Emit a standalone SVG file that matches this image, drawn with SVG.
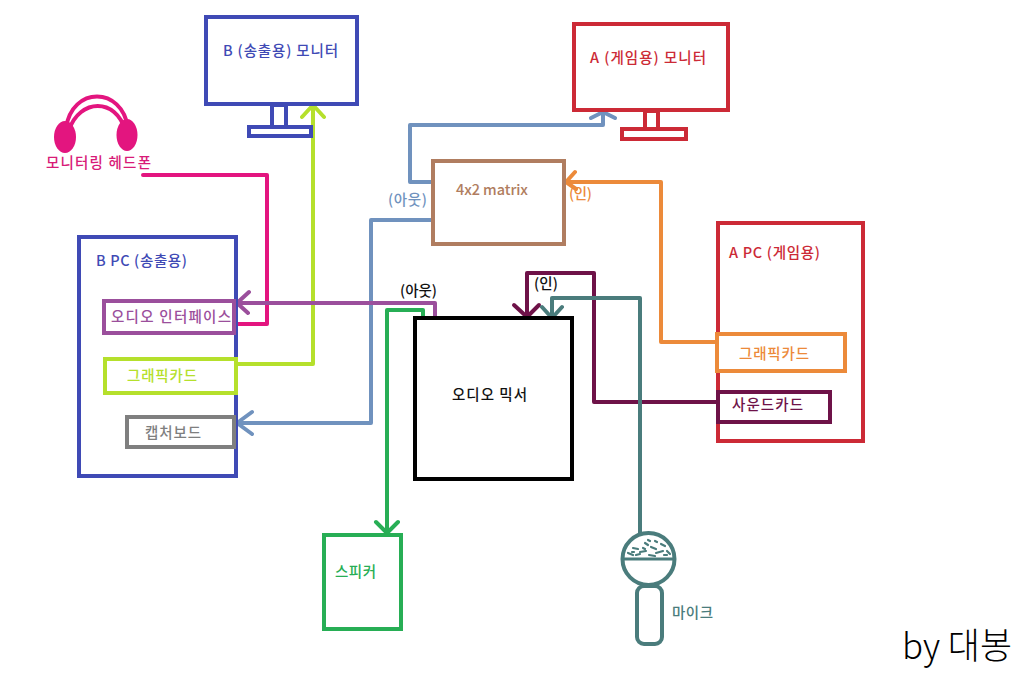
<svg xmlns="http://www.w3.org/2000/svg" width="1024" height="691" viewBox="0 0 1024 691">
<style>
text{font-family:"Noto Sans CJK KR","Noto Sans",sans-serif;font-size:14.500px;font-weight:500}
.box{fill:none;stroke-width:4}
.ln{fill:none;stroke-width:4;stroke-linejoin:round;stroke-linecap:round}
.navy{stroke:#3f4ab5}.red{stroke:#cc2a36}.blue{stroke:#7092be}.pink{stroke:#e3157f}.lime{stroke:#b5e02c}
.purple{stroke:#9b4f9c}.orange{stroke:#ec8a3a}.wine{stroke:#6e1248}.teal{stroke:#4a7c7c}.green{stroke:#27ae55}
</style>
<rect width="1024" height="691" fill="#fff"/>
<g id="connectors">
<path class="ln pink" d="M143 175H267V324H236"/>
<path class="ln lime" d="M237 364H313V105M302 117L313 105L324 117"/>
<path class="ln blue" d="M433 220H371V423H237M252 412L237 423L252 434"/>
<path class="ln blue" d="M433 182H410V125H603V113M591 118L603 112L615 118"/>
<path class="ln orange" d="M717 342H661V182H566M575 172L566 182L576 189"/>
<path class="ln wine" d="M718 402H594V273H527V316M514 305L527 317L539 305"/>
<path class="ln teal" d="M640 534V298H552V318M542 307L552 318L562 307"/>
<path class="ln purple" d="M435 317V303H237M249 292L237 303L248 313"/>
<path class="ln green" d="M423 317V310H387V533M376 522L387 533L398 522"/>
</g>
<g id="b-monitor">
<rect class="box navy" x="206" y="17" width="151" height="87"/>
<rect class="box navy" x="272" y="105" width="14" height="22"/>
<rect class="box navy" x="249" y="127" width="62" height="9"/>
<text x="223" y="56" textLength="115" fill="#3f4ab5">B (송출용) 모니터</text>
</g>
<g id="a-monitor">
<rect class="box red" x="574" y="24" width="154" height="86"/>
<rect class="box red" x="645" y="111" width="13" height="18"/>
<rect class="box red" x="622" y="129" width="64" height="10"/>
<text x="590" y="63" textLength="116" fill="#cc2a36">A (게임용) 모니터</text>
</g>
<g id="headphones">
<path d="M66 128C72 86 122 86 128 128" fill="none" stroke="#e3157f" stroke-width="4"/>
<path d="M69 130C80 98 116 98 125 130" fill="none" stroke="#e3157f" stroke-width="4"/>
<ellipse cx="65" cy="137" rx="11" ry="16" fill="#e3157f"/>
<ellipse cx="127" cy="135" rx="10.500" ry="16" fill="#e3157f"/>
<text x="46" y="168" textLength="105" fill="#d81b78">모니터링 헤드폰</text>
</g>
<g id="b-pc">
<rect class="box navy" x="79" y="237" width="157" height="239"/>
<text x="96" y="266" textLength="91" fill="#3f4ab5">B PC (송출용)</text>
</g>
<g id="audio-interface">
<rect class="box purple" x="104" y="301" width="130" height="32"/>
<text x="111" y="322" textLength="120" fill="#9b4f9c">오디오 인터페이스</text>
</g>
<g id="b-graphics">
<rect class="box lime" x="105" y="359" width="131" height="34"/>
<text x="127" y="381" textLength="70" fill="#b5e02c">그래픽카드</text>
</g>
<g id="capture-board">
<rect class="box" stroke="#7f7f7f" x="127" y="417" width="107" height="30"/>
<text x="145" y="438" textLength="56" fill="#7f7f7f">캡처보드</text>
</g>
<g id="matrix">
<rect class="box" stroke="#b07d60" x="433" y="161" width="131" height="83"/>
<text x="456" y="195" textLength="72" fill="#b07d60">4x2 matrix</text>
<text x="388" y="205" textLength="39" fill="#7092be">(아웃)</text>
<text x="569" y="199" textLength="23" fill="#ec8a3a">(인)</text>
</g>
<g id="a-pc">
<rect class="box red" x="718" y="223" width="145" height="218"/>
<text x="729" y="258" textLength="91" fill="#cc2a36">A PC (게임용)</text>
</g>
<g id="a-graphics">
<rect x="717" y="334" width="128" height="37" fill="#fff" stroke="#ec8a3a" stroke-width="4"/>
<text x="739" y="359" textLength="70" fill="#ec8a3a">그래픽카드</text>
</g>
<g id="sound-card">
<rect x="718" y="392" width="112" height="30" fill="#fff" stroke="#6e1248" stroke-width="4"/>
<text x="732" y="410" textLength="71" fill="#6e1248">사운드카드</text>
</g>
<g id="mixer">
<rect class="box" stroke="#000" x="415" y="318" width="157" height="161"/>
<text x="452" y="400" textLength="75" fill="#111">오디오 믹서</text>
<text x="400" y="296" textLength="37" fill="#111">(아웃)</text>
<text x="534" y="289" textLength="24" fill="#111">(인)</text>
</g>
<g id="speaker">
<rect class="box green" x="324" y="535" width="77" height="94"/>
<text x="335" y="577" textLength="41" fill="#27ae55">스피커</text>
</g>
<g id="microphone">
<circle cx="648.500" cy="559" r="26" fill="#fff" stroke="#4a7c7c" stroke-width="4"/>
<path d="M622 559H675" stroke="#4a7c7c" stroke-width="3"/>
<path d="M628 553l5 2M633 548l5 1M640 552l6 -1M645 543l3 2M651 547l5 2M656 553l7 -2M661 544l4 2M667 551l3 3M636 555l4 -1M649 555l6 1M643 548l2 1M655 541l2 1M632 552l2 0M664 555l3 0M648 540l2 1" stroke="#4a7c7c" stroke-width="2.200" stroke-linecap="round" fill="none"/>
<rect x="637" y="586" width="25" height="58" rx="7" fill="#fff" stroke="#4a7c7c" stroke-width="4"/>
<text x="672" y="618" textLength="41" fill="#4a7c7c">마이크</text>
</g>
<g id="signature">
<text x="902" y="659" textLength="110" lengthAdjust="spacingAndGlyphs" style="font-size:36px;font-weight:300" fill="#000">by 대봉</text>
</g>
</svg>
